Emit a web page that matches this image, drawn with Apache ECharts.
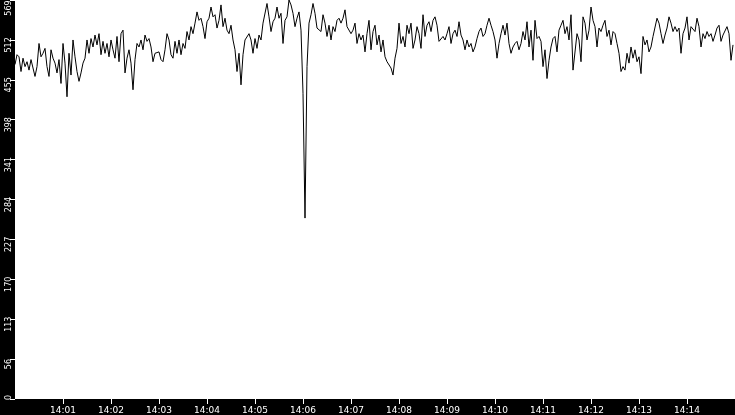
<!DOCTYPE html>
<html>
<head>
<meta charset="utf-8">
<script src="https://cdn.jsdelivr.net/npm/echarts@6/dist/echarts.min.js"></script>
<style>
html,body{margin:0;padding:0;background:#000;}
#chart{width:735px;height:415px;}
</style>
</head>
<body>
<div id="chart"></div>
<script>
// Samples every 2.5 s from 14:00:00 to 14:15:00 (minutes after 14:00 on x)
const sampleSeconds = 2.5;
const xTickLabels = ['14:01','14:02','14:03','14:04','14:05','14:06','14:07','14:08','14:09','14:10','14:11','14:12','14:13','14:14'];
const yTicks = [0,56,113,170,227,284,341,398,455,512,569];

const seg1 = [477,491,488,467,486,474,481,469,484,486,460,474,507,488,493,500,474,460,498,486,479,465,484,450,507,479,431,493,462,512,488,467,453,465,479,486,512,493,514,502];
const seg2 = [519,505,521,491,510,493,507,488,512,498,486,517,481,521,526,465,486,498,479,441,484,507,502,512,498,519,510,514,502,481,493,491,495,484,481,498,521,512,491,486];
const seg3 = [510,493,512,491,507,500,524,512,531,521,536,552,540,543,531,514,538,543,559,545,548,529,540,562,531,543,526,521,533,512,498,467,493,448,491,512,514,521,512,493];
const seg4 = [514,500,519,512,536,538,564,545,524,538,543,559,543,550,507,540,545,569,562,550,531,543,552,526,436,258,474,536,548,564,550,529,531,524,548,536,517,533,512,531];
const seg5 = [524,540,543,536,543,555,531,533,521,526,536,507,521,512,519,495,521,540,498,524,533,505,519,495,512,488,481,483,472,462,486,500,536,507,517,502,533,521,536,500];
const seg6 = [512,531,521,500,548,517,533,538,524,540,545,533,510,512,517,512,521,531,507,521,526,517,538,519,512,498,512,502,507,495,502,514,524,529,517,521,533,543,533,524];
const seg7 = [512,486,507,521,533,519,536,507,493,502,507,510,498,507,524,512,538,502,526,483,540,514,517,510,474,498,457,483,502,514,517,495,526,533,540,521,531,512,548,469];
const seg8 = [469,521,512,481,545,536,512,526,559,540,531,502,529,524,533,540,517,526,505,524,521,507,493,467,474,469,493,479,502,486,498,481,488,464,517,505,512,495,502,517];
const seg9 = [517,543,536,521,507,519,529,545,536,524,531,524,529,493,521,529,545,512,531,529,524,543,531,502,521,514,524,517,521,510,519,529,533,510,519,517,531,521,483,505];

const values = [].concat(seg1,seg2,seg3,seg4,seg5,seg6,seg7,seg8,seg9);
const seriesData = values.map((v,i)=>[i*sampleSeconds/60, v]);

const chart = echarts.init(document.getElementById('chart'), null, {renderer:'canvas'});
chart.setOption({
  animation:false,
  backgroundColor:'#000',
  grid:{left:15,right:0,top:0,bottom:16,show:true,backgroundColor:'#fff',borderWidth:0,containLabel:false,outerBoundsMode:'none'},
  xAxis:{
    type:'value',min:0,max:15,interval:1,
    axisLine:{show:false},
    axisTick:{show:true,length:5,lineStyle:{color:'#fff',width:1}},
    splitLine:{show:false},
    axisLabel:{
      color:'#fff',fontFamily:'DejaVu Sans',fontSize:9,margin:7,
      showMinLabel:false,showMaxLabel:false,
      formatter:(v)=>{const i=Math.round(v)-1;return xTickLabels[i]||'';}
    }
  },
  yAxis:{
    type:'value',min:0,max:569,interval:56.9,
    axisLine:{show:false},
    axisTick:{show:true,length:5,lineStyle:{color:'#fff',width:1}},
    splitLine:{show:false},
    axisLabel:{
      color:'#fff',fontFamily:'DejaVu Sans',fontSize:8,margin:2,rotate:90,
      padding:[0,10,0,0],
      formatter:(v)=>{
        const i=Math.round(v/56.9);
        const t=String(yTicks[i]);
        if(i===0) return '{lo|'+t+'}';
        if(i===yTicks.length-1) return '{hi|'+t+'}';
        return t;
      },
      rich:{
        lo:{color:'#fff',fontFamily:'DejaVu Sans',fontSize:8,padding:[0,0,0,13]},
        hi:{color:'#fff',fontFamily:'DejaVu Sans',fontSize:8,padding:[0,6,0,0]}
      }
    }
  },
  series:[{
    type:'line',data:seriesData,showSymbol:false,symbol:'none',
    lineStyle:{color:'#000',width:1},
    silent:true
  }]
});
</script>
</body>
</html>
